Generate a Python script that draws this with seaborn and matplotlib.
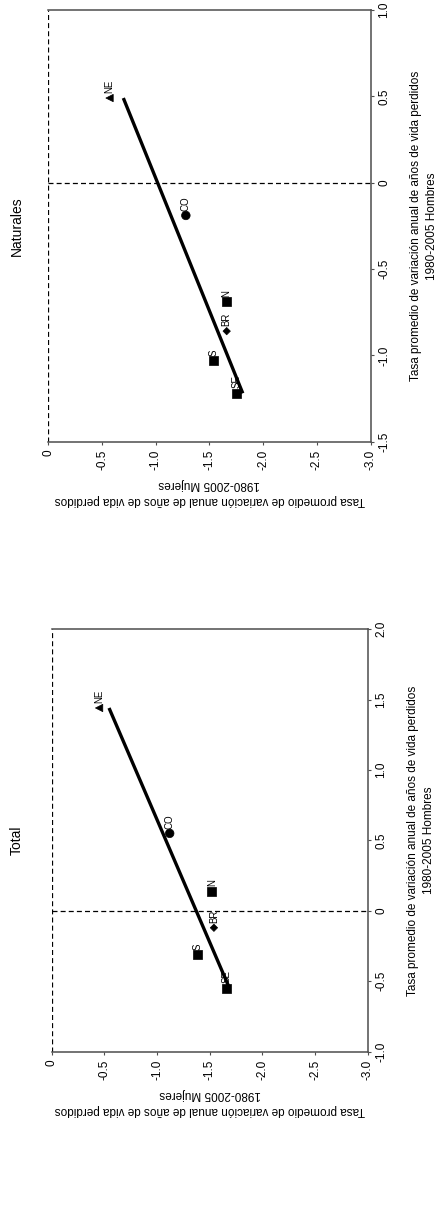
import numpy as np
import pandas as pd
import matplotlib
matplotlib.use("Agg")
import matplotlib.pyplot as plt
import seaborn as sns

sns.set_theme(style="white")
plt.rcParams['font.family'] = ['Liberation Sans', 'DejaVu Sans']
plt.rcParams['text.color'] = 'black'
plt.rcParams['axes.labelcolor'] = 'black'
plt.rcParams['xtick.color'] = 'black'
plt.rcParams['ytick.color'] = 'black'

regions = ["NE", "CO", "N", "BR", "S", "SE"]
# Total panel
total_hombres = [1.44, 0.55, 0.14, -0.12, -0.31, -0.55]
total_mujeres = [-0.45, -1.12, -1.52, -1.54, -1.38, -1.66]
# Naturales panel
nat_hombres = [0.49, -0.19, -0.69, -0.86, -1.03, -1.22]
nat_mujeres = [-0.57, -1.28, -1.66, -1.66, -1.54, -1.75]

mujeres_ticks = [0, -0.5, -1.0, -1.5, -2.0, -2.5, -3.0]
mujeres_ticklabels = ["0", "-0.5", "-1.0", "-1.5", "-2.0", "-2.5", "-3.0"]
total_h_ticks = [-1.0, -0.5, 0, 0.5, 1.0, 1.5, 2.0]
total_h_ticklabels = ["-1.0", "-0.5", "0", "0.5", "1.0", "1.5", "2.0"]
nat_h_ticks = [-1.5, -1.0, -0.5, 0, 0.5, 1.0]
nat_h_ticklabels = ["-1.5", "-1.0", "-0.5", "0", "0.5", "1.0"]

label_h = "Tasa promedio de variación anual de años de vida perdidos\n1980-2005 Hombres"
label_m = "Tasa promedio de variación anual de años de vida perdidos\n1980-2005 Mujeres"

markers = {"NE": "<", "CO": "o", "N": "s", "BR": "D", "S": "s", "SE": "s"}
sizes = {"NE": 28, "CO": 38, "N": 42, "BR": 14, "S": 42, "SE": 42}

fig = plt.figure(figsize=(4.39, 12.18), dpi=100)
ax_nat = fig.add_axes([0.110, 0.6374, 0.7344, 0.3544])
ax_tot = fig.add_axes([0.1178, 0.1365, 0.7198, 0.3470])

spine_col = "#4d4d4d"

def draw(ax, hombres, mujeres, hticks, hticklabels, hlim, title, title_y):
    df = pd.DataFrame({"region": regions, "hombres": hombres, "mujeres": mujeres})
    # reference lines
    ax.axvline(0, color="black", lw=0.9, ls=(0, (4, 2.5)), zorder=1)
    ax.axhline(0, color="black", lw=0.9, ls=(0, (4, 2.5)), zorder=1)
    # regression of Mujeres on Hombres (regions only, without BR)
    sub = df[df.region != "BR"]
    slope, inter = np.polyfit(sub.hombres, sub.mujeres, 1)
    hl = np.array([sub.hombres.min(), sub.hombres.max()])
    ax.plot(slope * hl + inter, hl, color="black", lw=2.4, solid_capstyle="butt", zorder=2)
    sns.scatterplot(data=df, x="mujeres", y="hombres", style="region", markers=markers,
                    size="region", sizes=sizes, color="black", edgecolor="black",
                    linewidth=0.5, legend=False, ax=ax, zorder=3)
    for r, h, m in zip(regions, hombres, mujeres):
        ax.annotate(r, (m, h), xytext=(0, 3.5), textcoords="offset points",
                    rotation=90, ha="center", va="bottom", fontsize=7, color="black")
    ax.set_xlim(0, -3.0)
    ax.set_ylim(*hlim)
    ax.set_xticks(mujeres_ticks)
    ax.set_xticklabels(mujeres_ticklabels, rotation=90, fontsize=8.5)
    ax.set_yticks(hticks)
    ax.set_yticklabels(hticklabels, rotation=90, fontsize=8.5, va="center")
    ax.yaxis.tick_right()
    ax.yaxis.set_label_position("right")
    ax.tick_params(axis="both", direction="out", length=2.5, width=0.8, color=spine_col,
                   labelcolor="black", pad=3, left=False, top=False, bottom=True, right=True)
    ax.spines["left"].set_visible(False)
    for s in ["top", "right", "bottom"]:
        ax.spines[s].set_color(spine_col)
        ax.spines[s].set_linewidth(1.1)
    ax.set_xlabel(label_m, rotation=180, fontsize=8.5, labelpad=6, linespacing=1.45)
    ax.set_ylabel(label_h, rotation=90, fontsize=8.5, labelpad=14, linespacing=1.45)
    ax.grid(False)
    fig.text(17 / 439, title_y, title, rotation=90, ha="center", va="center", fontsize=10)

draw(ax_nat, nat_hombres, nat_mujeres, nat_h_ticks, nat_h_ticklabels, (-1.5, 1.0),
     "Naturales", 1 - 226 / 1218)
draw(ax_tot, total_hombres, total_mujeres, total_h_ticks, total_h_ticklabels, (-1.0, 2.0),
     "Total", 1 - 840 / 1218)

fig.savefig("out.png", dpi=100, facecolor="white")
